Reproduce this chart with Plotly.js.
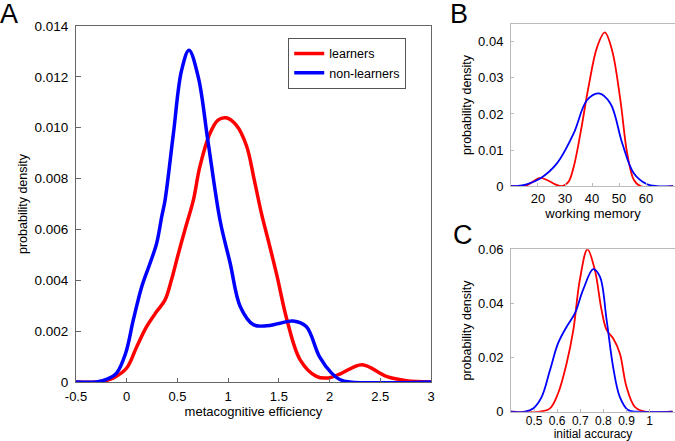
<!DOCTYPE html>
<html>
<head>
<meta charset="utf-8">
<script src="https://cdn.plot.ly/plotly-3.0.1.min.js"></script>
<style>
  html, body { margin: 0; padding: 0; background: #fff; }
  #plot { width: 675px; height: 441px; }
</style>
</head>
<body>
<div id="plot"></div>
<script>
// Panel A: metacognitive efficiency
const metaX_learn = [-0.5, -0.3, -0.2, -0.13, 0, 0.1, 0.196, 0.295, 0.378, 0.44, 0.51, 0.575, 0.657, 0.72, 0.82, 0.9, 0.98, 1.08, 1.18, 1.26, 1.33, 1.4, 1.48, 1.58, 1.71, 1.87, 1.99, 2.1, 2.32, 2.56, 2.76, 3.0];
const metaY_learn = [0, 0, 0.00006, 0.00016, 0.00055, 0.0014, 0.00218, 0.00277, 0.00323, 0.004, 0.00506, 0.006, 0.00715, 0.00845, 0.00977, 0.0103, 0.01039, 0.0101, 0.0093, 0.0079, 0.0066, 0.0055, 0.0042, 0.00244, 0.00087, 0.00022, 0.00016, 0.00031, 0.00068, 0.00022, 0.00005, 0];
const metaX_non = [-0.5, -0.3, -0.2, -0.1, -0.01, 0.065, 0.148, 0.23, 0.295, 0.345, 0.378, 0.46, 0.54, 0.614, 0.706, 0.8, 0.92, 1.02, 1.12, 1.25, 1.38, 1.5, 1.64, 1.77, 1.9, 2.02, 2.1, 2.2, 3.0];
const metaY_non = [0, 0, 0.0001, 0.00035, 0.00114, 0.00244, 0.00375, 0.00467, 0.00545, 0.0065, 0.00715, 0.00976, 0.01224, 0.01305, 0.01198, 0.0095, 0.00636, 0.00467, 0.00296, 0.00225, 0.00221, 0.0023, 0.0024, 0.00218, 0.001, 0.00035, 0.0001, 0, 0];

// Panel B: working memory
const wmX_learn = [10, 15, 17.1, 20.8, 23.3, 26.4, 28.9, 31.3, 33.2, 35.7, 38.7, 41.9, 44.7, 47.4, 50.5, 53.0, 55.5, 57.9, 70];
const wmY_learn = [0, 0, 0.00075, 0.0023, 0.0017, 0.0005, 0, 0.0012, 0.0053, 0.0146, 0.0275, 0.0386, 0.0426, 0.0377, 0.0238, 0.0091, 0.0017, 0, 0];
const wmX_non = [10, 12, 15.8, 20.8, 27, 33.2, 38.1, 42.5, 46.8, 51.2, 55.5, 60.4, 64, 70];
const wmY_non = [0, 0, 0.0005, 0.0021, 0.0063, 0.0146, 0.0238, 0.0257, 0.0229, 0.0118, 0.0035, 0.0005, 0, 0];

// Panel C: initial accuracy
const accX_learn = [0.4, 0.525, 0.569, 0.604, 0.641, 0.67, 0.698, 0.731, 0.763, 0.792, 0.814, 0.842, 0.871, 0.9, 0.936, 0.98, 1.1];
const accY_learn = [0, 0, 0.0012, 0.0068, 0.0179, 0.0302, 0.0487, 0.06, 0.0524, 0.0376, 0.0302, 0.0271, 0.0216, 0.0092, 0.0018, 0, 0];
const accX_non = [0.4, 0.46, 0.496, 0.533, 0.569, 0.604, 0.641, 0.677, 0.712, 0.756, 0.785, 0.814, 0.842, 0.871, 0.907, 0.95, 1.1];
const accY_non = [0, 0, 0.0012, 0.0055, 0.0154, 0.0253, 0.0314, 0.0364, 0.045, 0.0527, 0.0499, 0.0339, 0.0166, 0.0055, 0.0006, 0, 0];

const groups = ['learners', 'non-learners'];
const red = '#ff0000';
const blue = '#0000ff';
const font = 'Liberation Sans, Arial, sans-serif';

function linea(x, y, color, width, xa, ya, name, legend) {
  return {
    x: x, y: y, type: 'scatter', mode: 'lines',
    line: { color: color, width: width, shape: 'spline', smoothing: 1 },
    xaxis: xa, yaxis: ya, name: name, showlegend: legend, hoverinfo: 'skip'
  };
}

const data = [
  linea(metaX_learn, metaY_learn, red, 3.5, 'x', 'y', groups[0], true),
  linea(metaX_non, metaY_non, blue, 3.5, 'x', 'y', groups[1], true),
  linea(wmX_learn, wmY_learn, red, 1.8, 'x2', 'y2', groups[0], false),
  linea(wmX_non, wmY_non, blue, 1.8, 'x2', 'y2', groups[1], false),
  linea(accX_learn, accY_learn, red, 1.8, 'x3', 'y3', groups[0], false),
  linea(accX_non, accY_non, blue, 1.8, 'x3', 'y3', groups[1], false)
];

function eje(extra) {
  return Object.assign({
    showgrid: false, zeroline: false, showline: true, mirror: true,
    ticks: 'inside', fixedrange: true,
    tickfont: { family: font, size: 13, color: '#000' }
  }, extra);
}

const layout = {
  width: 675, height: 441,
  margin: { l: 0, r: 0, t: 0, b: 0 },
  paper_bgcolor: '#fff', plot_bgcolor: '#fff',
  font: { family: font, color: '#000' },
  showlegend: true,
  legend: {
    x: 0.427, y: 0.914, xanchor: 'left', yanchor: 'top',
    bordercolor: '#555', borderwidth: 1, bgcolor: '#fff',
    font: { family: font, size: 12.5 }, tracegroupgap: 0
  },
  xaxis: eje({
    domain: [0.1126, 0.6385], range: [-0.5, 3], anchor: 'y',
    tickvals: [-0.5, 0, 0.5, 1, 1.5, 2, 2.5, 3],
    ticktext: ['-0.5', '0', '0.5', '1', '1.5', '2', '2.5', '3'],
    linecolor: '#666', tickcolor: '#666', ticklen: 4, ticklabelstandoff: 2,
    tickfont: { family: font, size: 13, color: '#000' },
    title: { text: 'metacognitive efficiency', font: { size: 13 }, standoff: 0 }
  }),
  yaxis: eje({
    domain: [0.1338, 0.941], range: [0, 0.014], anchor: 'x',
    tickvals: [0, 0.002, 0.004, 0.006, 0.008, 0.010, 0.012, 0.014],
    ticktext: ['0', '0.002', '0.004', '0.006', '0.008', '0.010', '0.012', '0.014'],
    linecolor: '#666', tickcolor: '#666', ticklen: 5, ticklabelstandoff: 4,
    tickfont: { family: font, size: 13.5, color: '#000' },
    title: { text: 'probability density', font: { size: 12.5 }, standoff: 4 }
  }),
  xaxis2: eje({
    domain: [0.757, 1.0], range: [10, 70.7], anchor: 'y2',
    tickvals: [20, 30, 40, 50, 60],
    linecolor: '#bbb', tickcolor: '#bbb', ticklen: 3,
    title: { text: 'working memory', font: { size: 13 }, standoff: 0 }
  }),
  yaxis2: eje({
    domain: [0.578, 0.946], range: [0, 0.045], anchor: 'x2',
    tickvals: [0, 0.01, 0.02, 0.03, 0.04],
    ticktext: ['0', '0.01', '0.02', '0.03', '0.04'],
    linecolor: '#bbb', tickcolor: '#bbb', ticklen: 3, ticklabelstandoff: 4,
    title: { text: 'probability density', font: { size: 12.5 }, standoff: 3 }
  }),
  xaxis3: eje({
    domain: [0.757, 1.0], range: [0.4, 1.11], anchor: 'y3',
    tickvals: [0.5, 0.6, 0.7, 0.8, 0.9, 1],
    ticktext: ['0.5', '0.6', '0.7', '0.8', '0.9', '1'],
    linecolor: '#bbb', tickcolor: '#bbb', ticklen: 3, ticklabelstandoff: -2,
    tickfont: { family: font, size: 12, color: '#000' },
    title: { text: 'initial accuracy', font: { size: 12 }, standoff: 0 }
  }),
  yaxis3: eje({
    domain: [0.0665, 0.4347], range: [0, 0.06], anchor: 'x3',
    tickvals: [0, 0.02, 0.04, 0.06],
    ticktext: ['0', '0.02', '0.04', '0.06'],
    linecolor: '#bbb', tickcolor: '#bbb', ticklen: 3, ticklabelstandoff: 4,
    title: { text: 'probability density', font: { size: 12.5 }, standoff: 3 }
  }),
  annotations: [
    { text: 'A', x: 0, y: 1, xref: 'paper', yref: 'paper', xanchor: 'left', yanchor: 'top', showarrow: false, font: { family: font, size: 27 }, xshift: -2, yshift: 3 },
    { text: 'B', x: 0.664, y: 1, xref: 'paper', yref: 'paper', xanchor: 'left', yanchor: 'top', showarrow: false, font: { family: font, size: 27 }, yshift: 3 },
    { text: 'C', x: 0.668, y: 0.505, xref: 'paper', yref: 'paper', xanchor: 'left', yanchor: 'top', showarrow: false, font: { family: font, size: 27 } }
  ]
};

Plotly.newPlot('plot', data, layout, { displayModeBar: false, staticPlot: true });
</script>
</body>
</html>
